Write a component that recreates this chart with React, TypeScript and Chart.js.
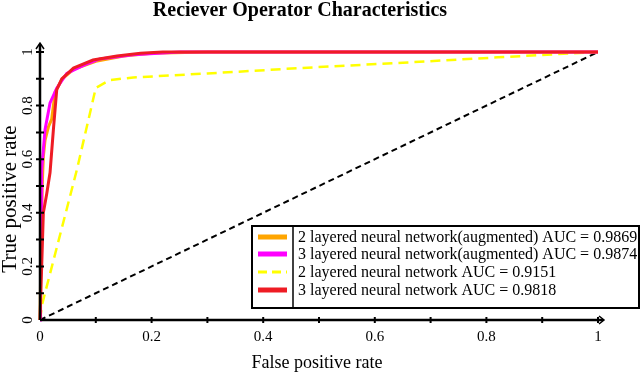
import React, { useEffect, useRef } from 'react';
import { Chart, registerables } from 'chart.js';

Chart.register(...registerables);

const TITLE = 'Reciever Operator Characteristics';
const X_TITLE = 'False positive rate';
const Y_TITLE = 'True positive rate';
const TICK_VALUES = [0, 0.2, 0.4, 0.6, 0.8, 1];
const TICK_LABELS = ['0', '0.2', '0.4', '0.6', '0.8', '1'];
const MINOR_TICK_VALUES = [0.1, 0.3, 0.5, 0.7, 0.9];

const LABELS = [
  '2 layered neural network(augmented) AUC = 0.9869',
  '3 layered neural network(augmented) AUC = 0.9874',
  '2 layered neural network AUC = 0.9151',
  '3 layered neural network AUC = 0.9818',
];
const COLORS = ['#ffa500', '#ff00ff', '#ffff00', '#ee1c24'];

const fprOrange = [0, 0.002, 0.004, 0.006, 0.009, 0.015, 0.021, 0.027, 0.04, 0.06, 0.1, 0.15, 0.2, 0.3, 1];
const tprOrange = [0, 0.3, 0.5, 0.61, 0.67, 0.72, 0.75, 0.85, 0.9, 0.935, 0.965, 0.985, 0.995, 1, 1];

const fprMagenta = [0, 0.001, 0.002, 0.003, 0.009, 0.018, 0.03, 0.048, 0.078, 0.107, 0.167, 0.25, 1];
const tprMagenta = [0, 0.2, 0.4, 0.56, 0.71, 0.81, 0.865, 0.92, 0.95, 0.974, 0.99, 1, 1];

const fprYellow = [0, 0.004, 0.066, 0.1, 0.125, 0.167, 0.3, 0.466, 0.65, 0.82, 1];
const tprYellow = [0, 0.06, 0.56, 0.866, 0.895, 0.905, 0.92, 0.94, 0.96, 0.98, 1];

const fprRed = [0, 0.003, 0.006, 0.012, 0.018, 0.024, 0.03, 0.039, 0.06, 0.095, 0.138, 0.18, 0.22, 1];
const tprRed = [0, 0.2, 0.4, 0.47, 0.55, 0.71, 0.86, 0.9, 0.94, 0.97, 0.985, 0.995, 1, 1];

const fprChance = [0, 1];
const tprChance = [0, 1];

const SERIF = '"Liberation Serif", "DejaVu Serif", serif';

const zip = (xs: number[], ys: number[]) => xs.map((x, i) => ({ x, y: ys[i] }));

const overlay = {
  id: 'overlay',
  afterDatasetsDraw(chart: any) {
    const ctx: CanvasRenderingContext2D = chart.ctx;
    const xs = chart.scales.x;
    const ys = chart.scales.y;
    const x0 = xs.getPixelForValue(0);
    const x1 = xs.getPixelForValue(1);
    const y0 = ys.getPixelForValue(0);
    const y1 = ys.getPixelForValue(1);
    ctx.save();
    ctx.strokeStyle = '#000';
    ctx.fillStyle = '#000';
    ctx.setLineDash([]);
    // axes
    ctx.lineWidth = 2.5;
    ctx.beginPath();
    ctx.moveTo(x0, y0);
    ctx.lineTo(x1 + 5, y0);
    ctx.moveTo(x0, y0);
    ctx.lineTo(x0, y1 - 8);
    ctx.stroke();
    // arrows
    ctx.lineWidth = 1.5;
    ctx.beginPath();
    ctx.moveTo(x1 + 1, y0 - 4);
    ctx.lineTo(x1 + 6, y0);
    ctx.lineTo(x1 + 1, y0 + 4);
    ctx.moveTo(x0 - 4, y1 - 3);
    ctx.lineTo(x0, y1 - 9);
    ctx.lineTo(x0 + 4, y1 - 3);
    ctx.stroke();
    // ticks
    ctx.lineWidth = 2;
    const allTicks = [...TICK_VALUES, ...MINOR_TICK_VALUES];
    ctx.beginPath();
    allTicks.forEach((v) => {
      if (v === 0) return;
      const px = xs.getPixelForValue(v);
      ctx.moveTo(px, y0 - 3);
      ctx.lineTo(px, y0 + 3);
      const py = ys.getPixelForValue(v);
      ctx.moveTo(x0 - 4, py);
      ctx.lineTo(x0 + 4, py);
    });
    ctx.stroke();
    // tick labels
    ctx.font = `15px ${SERIF}`;
    ctx.textAlign = 'center';
    ctx.textBaseline = 'middle';
    TICK_VALUES.forEach((v, i) => {
      ctx.fillText(TICK_LABELS[i], xs.getPixelForValue(v), y0 + 17);
      ctx.save();
      ctx.translate(x0 - 12, ys.getPixelForValue(v));
      ctx.rotate(-Math.PI / 2);
      ctx.fillText(TICK_LABELS[i], 0, 0);
      ctx.restore();
    });
    // axis titles
    ctx.font = `18px ${SERIF}`;
    ctx.fillText(X_TITLE, (x0 + x1) / 2 - 2, y0 + 43);
    ctx.save();
    ctx.font = `21px ${SERIF}`;
    ctx.translate(10, 199);
    ctx.rotate(-Math.PI / 2);
    ctx.fillText(Y_TITLE, 0, 0);
    ctx.restore();
    // title
    ctx.font = `bold 20px ${SERIF}`;
    ctx.fillText(TITLE, 300, 11);

    // legend
    const bx = 252, by = 226, bw = 387, bh = 82, div = 293;
    ctx.fillStyle = '#fff';
    ctx.fillRect(bx, by, bw, bh);
    ctx.strokeStyle = '#000';
    ctx.lineWidth = 2;
    ctx.strokeRect(bx, by, bw, bh);
    ctx.lineWidth = 1.5;
    ctx.beginPath();
    ctx.moveTo(div, by);
    ctx.lineTo(div, by + bh);
    ctx.stroke();
    const rowY = [237, 254, 272, 290];
    ctx.font = `16px ${SERIF}`;
    ctx.textAlign = 'left';
    LABELS.forEach((lab, i) => {
      const ds = chart.data.datasets[i];
      ctx.save();
      ctx.strokeStyle = ds.borderColor;
      ctx.lineWidth = i === 2 ? 3 : 5;
      ctx.setLineDash(i === 2 ? [9, 5] : []);
      ctx.beginPath();
      ctx.moveTo(258, rowY[i]);
      ctx.lineTo(287, rowY[i]);
      ctx.stroke();
      ctx.restore();
      ctx.fillStyle = '#000';
      ctx.fillText(lab, 298, rowY[i] + 1);
    });
    ctx.restore();
  },
};

export default function App() {
  const ref = useRef<HTMLCanvasElement | null>(null);
  useEffect(() => {
    if (!ref.current) return;
    const chart = new Chart(ref.current, {
      type: 'line',
      data: {
        datasets: [
          { label: LABELS[0], data: zip(fprOrange, tprOrange), borderColor: COLORS[0], borderWidth: 3, pointRadius: 0, order: 2, clip: 8, tension: 0 },
          { label: LABELS[1], data: zip(fprMagenta, tprMagenta), borderColor: COLORS[1], borderWidth: 3, pointRadius: 0, order: 1, clip: 8, tension: 0 },
          { label: LABELS[2], data: zip(fprYellow, tprYellow), borderColor: COLORS[2], borderWidth: 2.5, borderDash: [10, 6], pointRadius: 0, order: 3, clip: 8, tension: 0 },
          { label: LABELS[3], data: zip(fprRed, tprRed), borderColor: COLORS[3], borderWidth: 3, pointRadius: 0, order: 0, clip: 8, tension: 0 },
          { label: 'chance', data: zip(fprChance, tprChance), borderColor: '#000', borderWidth: 2, borderDash: [6, 4], pointRadius: 0, order: 4, clip: 8 },
        ] as any,
      },
      options: {
        animation: false,
        responsive: false,
        events: [],
        layout: { padding: { left: 40, right: 42, top: 52, bottom: 55 } },
        scales: {
          x: { type: 'linear', min: 0, max: 1, display: false },
          y: { type: 'linear', min: 0, max: 1, display: false },
        },
        plugins: { legend: { display: false }, title: { display: false }, tooltip: { enabled: false } },
      },
      plugins: [overlay],
    });
    return () => chart.destroy();
  }, []);
  return (
    <div style={{ position: 'absolute', left: 0, top: 0, width: 640, height: 375, background: '#fff' }}>
      <canvas ref={ref} width={640} height={375} style={{ width: 640, height: 375 }} />
    </div>
  );
}
